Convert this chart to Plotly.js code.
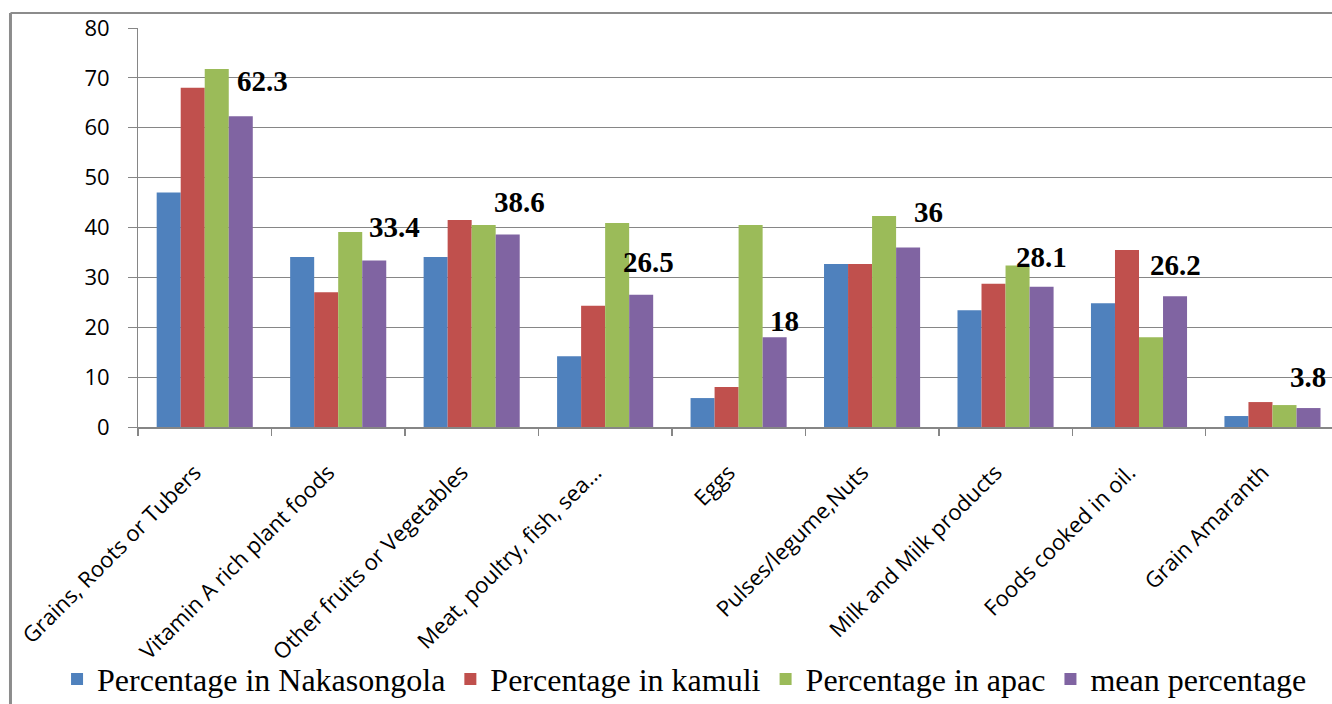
<!DOCTYPE html>
<html>
<head>
<meta charset="utf-8">
<script src="https://cdn.plot.ly/plotly-3.0.1.min.js"></script>
<style>
  html, body { margin: 0; padding: 0; background: #fff; }
  #chart { width: 1332px; height: 704px; }
</style>
</head>
<body>
<div id="chart"></div>
<script>
// Food groups consumed, by district (percentage of households)
const foodGroups = [
  "Grains, Roots or Tubers",
  "Vitamin A rich plant foods",
  "Other fruits or Vegetables",
  "Meat, poultry, fish, sea…",
  "Eggs",
  "Pulses/legume,Nuts",
  "Milk and Milk products",
  "Foods cooked in oil.",
  "Grain Amaranth"
];

const nakasongola = [47.0, 34.1, 34.1, 14.2, 5.8, 32.7, 23.4, 24.8, 2.2];
const kamuli      = [68.0, 27.0, 41.5, 24.3, 8.0, 32.7, 28.7, 35.5, 5.0];
const apac        = [71.8, 39.1, 40.5, 40.9, 40.5, 42.3, 32.4, 18.0, 4.4];
const meanPct     = [62.3, 33.4, 38.6, 26.5, 18, 36, 28.1, 26.2, 3.8];

const seriesNames = [
  "Percentage in Nakasongola",
  "Percentage in kamuli",
  "Percentage in apac",
  "mean percentage"
];
const seriesColors = ["#4F81BD", "#C0504D", "#9BBB59", "#8064A2"];

// hand-placed offsets (px) of the mean-value labels relative to the mean bar
const labelDx = [22, 20, 12, 7, 10, 20, 0, 0, 0];
const labelDy = [17, 15, 14, 15, -2, 17, 12, 13, 13];

const seriesValues = [nakasongola, kamuli, apac, meanPct];

const traces = seriesValues.map((vals, i) => ({
  type: "bar",
  name: seriesNames[i],
  x: foodGroups,
  y: vals,
  marker: { color: seriesColors[i], line: { width: 0 } },
  hoverinfo: "x+y+name"
}));

// mean bar sits 1.5 bar widths right of the category centre
const barOffsetPx = 36;
const annotations = foodGroups.map((g, i) => ({
  x: g,
  y: meanPct[i],
  xref: "x",
  yref: "y",
  text: String(meanPct[i]),
  showarrow: false,
  xanchor: "center",
  yanchor: "bottom",
  xshift: barOffsetPx + labelDx[i],
  yshift: labelDy[i],
  font: { family: "Liberation Serif, Times New Roman, serif", size: 29, color: "#000", weight: "bold" }
}));

const gridGrey = "#868686";
const frameGrey = "#8c8c8c";

const layout = {
  width: 1332,
  height: 704,
  margin: { l: 138, r: 0, t: 28, b: 277, pad: 0, autoexpand: false },
  paper_bgcolor: "#ffffff",
  plot_bgcolor: "#ffffff",
  barmode: "group",
  bargap: 0.28,
  bargroupgap: 0,
  showlegend: true,
  xaxis: {
    type: "category",
    range: [-0.5, 8.446],
    tickson: "boundaries",
    ticks: "outside",
    ticklen: 7,
    tickwidth: 1.5,
    tickcolor: gridGrey,
    showline: true,
    linecolor: gridGrey,
    linewidth: 2,
    showgrid: false,
    zeroline: false,
    tickangle: -45,
    ticklabelstandoff: 22,
    ticklabelshift: -10,
    tickfont: { family: "Open Sans, sans-serif", size: 22, color: "#000" },
    fixedrange: true
  },
  yaxis: {
    range: [0, 80],
    dtick: 10,
    tick0: 0,
    showgrid: true,
    gridcolor: gridGrey,
    gridwidth: 1,
    ticks: "outside",
    ticklen: 9,
    tickwidth: 1,
    tickcolor: gridGrey,
    showline: true,
    linecolor: gridGrey,
    linewidth: 1,
    zeroline: false,
    ticklabelstandoff: 14,
    tickfont: { family: "Open Sans, sans-serif", size: 22, color: "#000" },
    fixedrange: true
  },
  legend: {
    orientation: "h",
    xref: "paper",
    yref: "paper",
    x: -0.0678,
    y: -0.632,
    xanchor: "left",
    yanchor: "middle",
    bgcolor: "rgba(0,0,0,0)",
    font: { family: "Liberation Serif, Times New Roman, serif", size: 32, color: "#000" },
    traceorder: "normal"
  },
  annotations: annotations,
  shapes: [
    // chart frame (left and top edges)
    { type: "line", xref: "paper", yref: "paper",
      x0: -0.1068, x1: -0.1068, y0: 1.0376, y1: -0.8,
      line: { color: frameGrey, width: 3 } },
    { type: "line", xref: "paper", yref: "paper",
      x0: -0.1068, x1: 1.05, y0: 1.0376, y1: 1.0376,
      line: { color: frameGrey, width: 2 } }
  ]
};

Plotly.newPlot("chart", traces, layout, { displayModeBar: false, staticPlot: true });
</script>
</body>
</html>
